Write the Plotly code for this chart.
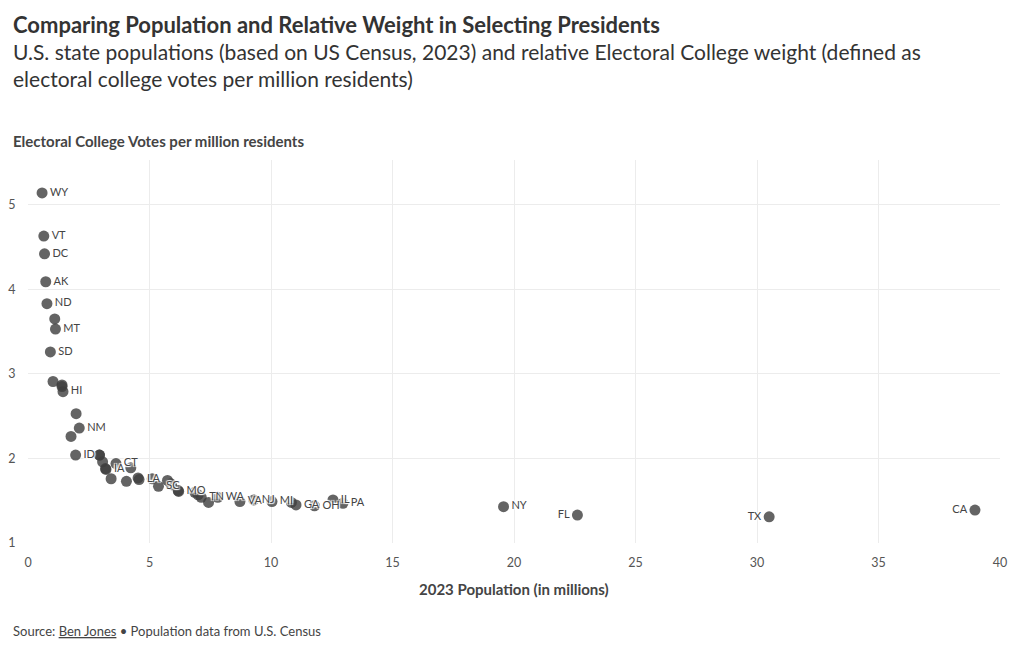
import plotly.graph_objects as go

states = ["WY","VT","DC","AK","ND","RI","MT","SD","DE","ME","NH","HI","NE","NM","WV","ID",
          "KS","MS","AR","CT","IA","NV","OR","UT","OK","AL","KY","LA","MN","CO","WI","SC",
          "MD","MO","IN","MA","TN","AZ","WA","VA","NJ","MI","NC","GA","OH","IL","PA",
          "NY","FL","TX","CA"]
population_m = [0.58,0.65,0.68,0.73,0.78,1.10,1.13,0.92,1.03,1.40,1.40,1.44,1.98,2.11,1.77,1.96,
                2.94,2.94,3.07,3.62,3.21,3.19,4.23,3.42,4.05,5.11,4.53,4.57,5.74,5.88,5.91,5.37,
                6.18,6.20,6.86,7.00,7.13,7.43,7.81,8.72,9.29,10.04,10.84,11.03,11.79,12.55,12.96,
                19.57,22.61,30.50,38.97]
ev_per_million = [5.14,4.63,4.42,4.09,3.83,3.65,3.53,3.26,2.91,2.87,2.85,2.79,2.53,2.36,2.26,2.04,
                  2.04,2.04,1.96,1.94,1.87,1.88,1.89,1.76,1.73,1.76,1.77,1.75,1.74,1.70,1.69,1.67,
                  1.62,1.61,1.60,1.57,1.54,1.48,1.54,1.49,1.51,1.49,1.48,1.45,1.44,1.51,1.47,
                  1.43,1.33,1.31,1.39]
labeled = {"WY","VT","DC","AK","ND","MT","SD","HI","NM","ID","IA","CT","LA","SC","MO","TN",
           "WA","VA","NJ","MI","GA","OH","IL","PA","NY","FL","TX","CA"}
left_labels = {"FL","TX","CA"}

x_ticks = [0,5,10,15,20,25,30,35,40]
y_ticks = [1,2,3,4,5]

FONT = "Lato"
labels = [s if s in labeled else "" for s in states]
positions = ["middle left" if s in left_labels else "middle right" for s in states]

fig = go.Figure()
fig.add_trace(go.Scatter(
    x=population_m, y=ev_per_million, mode="markers+text",
    text=labels, textposition=positions,
    textfont=dict(family=FONT, size=11, color="#444",
                  shadow="1px 1px 1px #fff, -1px -1px 1px #fff, 1px -1px 1px #fff, -1px 1px 1px #fff"),
    marker=dict(size=11, color="#3d3d3d", opacity=0.8, line=dict(width=0)),
    hoverinfo="skip", showlegend=False, cliponaxis=False,
))

L, T, R, B = 28, 160, 1000, 543
W, H = 1020, 650

def px(x):
    return (x - L) / (R - L)

def py(y):
    return (B - y) / (B - T)

fig.update_layout(
    width=W, height=H,
    margin=dict(l=L, r=W - R, t=T, b=H - B, pad=0, autoexpand=False),
    paper_bgcolor="white", plot_bgcolor="white",
    font=dict(family=FONT, color="#555"),
    xaxis=dict(range=[0, 40], tickvals=x_ticks, showgrid=True, gridcolor="#ececec",
               zeroline=False, showline=False, ticks="outside", ticklen=8,
               tickcolor="rgba(0,0,0,0)", tickfont=dict(size=12.5, color="#555"),
               fixedrange=True, automargin=False),
    yaxis=dict(range=[1, 5.53], tickvals=y_ticks, showgrid=True, gridcolor="#ececec",
               zeroline=False, showline=False, ticks="outside", ticklen=9,
               tickcolor="rgba(0,0,0,0)", tickfont=dict(size=12.5, color="#555"),
               fixedrange=True, automargin=False),
)

ann = [
    dict(text="<b>Comparing Population and Relative Weight in Selecting Presidents</b>",
         x=11, y=24, size=22, color="#333"),
    dict(text="U.S. state populations (based on US Census, 2023) and relative Electoral College weight (defined as",
         x=11, y=51, size=21, color="#333"),
    dict(text="electoral college votes per million residents)",
         x=11, y=78, size=21, color="#333"),
    dict(text="<b>Electoral College Votes per million residents</b>",
         x=11, y=141, size=15, color="#444"),
    dict(text="Source: <u>Ben Jones</u> • Population data from U.S. Census",
         x=11, y=631, size=13, color="#444"),
]
for a in ann:
    fig.add_annotation(text=a["text"], xref="paper", yref="paper",
                       x=px(a["x"]), y=py(a["y"]), xanchor="left", yanchor="middle",
                       showarrow=False, font=dict(family=FONT, size=a["size"], color=a["color"]))
fig.add_annotation(text="<b>2023 Population (in millions)</b>", xref="paper", yref="paper",
                   x=px(514), y=py(589), xanchor="center", yanchor="middle", showarrow=False,
                   font=dict(family=FONT, size=15, color="#444"))

fig.write_html("out.html")
